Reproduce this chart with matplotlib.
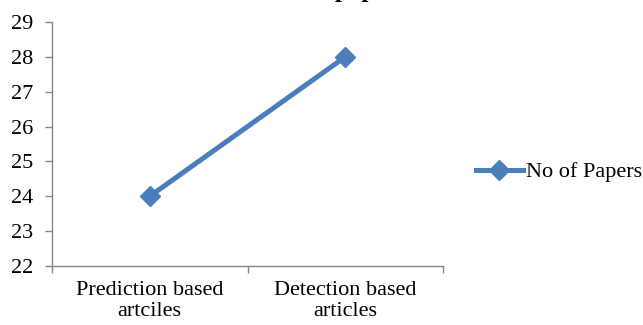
import matplotlib
matplotlib.use("Agg")
import matplotlib.pyplot as plt
from matplotlib.lines import Line2D

categories = ["Prediction based\nartciles", "Detection based\narticles"]
values = [24, 28]
series_name = "No of Papers"
title = "No of papers"
y_ticks = [22, 23, 24, 25, 26, 27, 28, 29]

plt.rcParams["font.family"] = ["Liberation Serif", "DejaVu Serif"]

W, H = 643, 325
fig = plt.figure(figsize=(W / 100, H / 100), dpi=100)
ax = fig.add_axes([52 / W, 1 - 266 / H, (443 - 52) / W, (266 - 22) / H])

color = "#4a7ebb"
axis_grey = "#868686"
xs = [0.5, 1.5]
ax.plot(xs, values, color=color, lw=3.6, marker="D", markersize=10.5,
        markerfacecolor=color, markeredgecolor=color, solid_capstyle="butt")

ax.set_xlim(0, 2)
ax.set_ylim(22, 29)
ax.set_yticks(y_ticks)
ax.set_xticks([0, 1, 2])
ax.set_xticklabels([])
ax.set_xticks(xs, minor=True)
ax.set_xticklabels(categories, minor=True, fontsize=16, linespacing=1.12)
ax.tick_params(axis="x", which="minor", length=0, pad=11)
ax.tick_params(axis="x", which="major", length=5, color=axis_grey, width=1)
ax.tick_params(axis="y", length=5, color=axis_grey, width=1, labelsize=16, pad=8.5)

for s in ["top", "right"]:
    ax.spines[s].set_visible(False)
for s in ["left", "bottom"]:
    ax.spines[s].set_color(axis_grey)
    ax.spines[s].set_linewidth(1)

handle = Line2D([], [], color=color, lw=3.6, marker="D", markersize=10,
                markerfacecolor=color, markeredgecolor=color)
fig.legend([handle], [series_name], loc="center left",
           bbox_to_anchor=(476 / W, 1 - 172 / H), frameon=False,
           fontsize=16, handlelength=2.1, handletextpad=0.15, borderpad=0,
           borderaxespad=0)

fig.text(271 / W, 1 + 2.5 / H, title, ha="left", va="baseline",
         fontsize=18, fontweight="bold")

fig.savefig("out.png", dpi=100)
